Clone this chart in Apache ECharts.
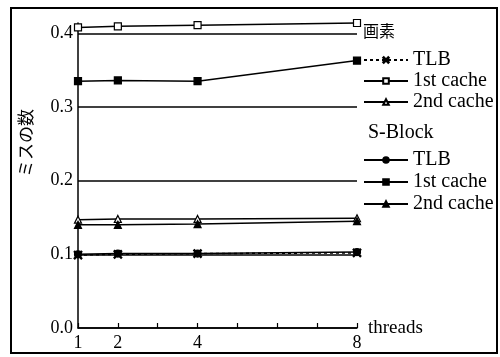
<!DOCTYPE html>
<html>
<head>
<meta charset="utf-8">
<script src="https://cdn.jsdelivr.net/npm/echarts@6/dist/echarts.min.js"></script>
<style>html,body{margin:0;padding:0;background:#fff}#c{width:500px;height:357px}</style>
</head>
<body>
<div id="c"></div>
<script>
var threads = [1, 2, 4, 8];
var xTickLabels = ['1', '2', '4', '8'];
var gasoTLB = [0.099, 0.100, 0.101, 0.102];
var gaso1st = [0.408, 0.4095, 0.411, 0.414];
var gaso2nd = [0.147, 0.148, 0.148, 0.149];
var sbTLB = [0.100, 0.101, 0.101, 0.103];
var sb1st = [0.335, 0.336, 0.335, 0.363];
var sb2nd = [0.140, 0.140, 0.141, 0.145];

var serif = '"Liberation Serif", "Noto Sans CJK JP", serif';
var xPath = 'path://M0,1L1,0L5,4L9,0L10,1L6,5L10,9L9,10L5,6L1,10L0,9L4,5Z';

function pts(vals) { return threads.map(function (t, i) { return [t, vals[i]]; }); }
function mk(name, vals, symbol, fill, dashed) {
  return {
    name: name, type: 'line', data: pts(vals), clip: false,
    symbol: symbol, symbolSize: symbol === xPath ? 8 : 7,
    lineStyle: { color: '#000', width: 1.5, type: dashed ? [3, 3] : 'solid' },
    itemStyle: { color: fill, borderColor: '#000', borderWidth: 1.2 },
    emphasis: { disabled: true }, animation: false
  };
}
var series = [
  mk('画素 TLB', gasoTLB, xPath, '#000', true),
  mk('画素 1st cache', gaso1st, 'rect', '#fff', false),
  mk('画素 2nd cache', gaso2nd, 'triangle', '#fff', false),
  mk('S-Block TLB', sbTLB, 'circle', '#000', false),
  mk('S-Block 1st cache', sb1st, 'rect', '#000', false),
  mk('S-Block 2nd cache', sb2nd, 'triangle', '#000', false)
];
function legendFmt(n) { return n.split(' ').slice(1).join(' '); }
var legendBase = {
  orient: 'vertical', left: 358, itemWidth: 44, itemHeight: 7, itemGap: 0,
  formatter: legendFmt, selectedMode: false,
  textStyle: { fontFamily: serif, fontSize: 20, color: '#000', lineHeight: 21 }
};
var chart = echarts.init(document.getElementById('c'), null, { renderer: 'canvas' });
chart.setOption({
  backgroundColor: '#fff',
  animation: false,
  grid: { left: 78, right: 143, top: 23, bottom: 29 },
  xAxis: {
    type: 'value', min: 1, max: 8, interval: 1,
    name: 'threads', nameLocation: 'end', nameGap: 11,
    nameTextStyle: { fontFamily: serif, fontSize: 19, color: '#000' },
    axisLine: { show: true, lineStyle: { color: '#000', width: 1.5 } },
    axisTick: { show: true, inside: true, length: 5, lineStyle: { color: '#000', width: 1.2 } },
    axisLabel: {
      margin: 6, fontFamily: serif, fontSize: 18, color: '#000',
      formatter: function (v) { var s = String(v); return xTickLabels.indexOf(s) >= 0 ? s : ''; }
    },
    splitLine: { show: false }
  },
  yAxis: {
    type: 'value', min: 0, max: 0.414, interval: 0.1,
    axisLine: { show: true, lineStyle: { color: '#000', width: 1.5 } },
    axisTick: { show: false },
    axisLabel: {
      margin: 5, fontFamily: serif, fontSize: 18, color: '#000', showMaxLabel: false,
      formatter: function (v) { return Math.abs(v * 10 - Math.round(v * 10)) < 1e-6 ? v.toFixed(1) : ''; }
    },
    splitLine: { show: true, showMaxLine: false, lineStyle: { color: '#000', width: 1.5 } }
  },
  legend: [
    Object.assign({}, legendBase, { top: 44.5, data: ['画素 TLB', '画素 1st cache', '画素 2nd cache'] }),
    Object.assign({}, legendBase, { top: 144, textStyle: Object.assign({}, legendBase.textStyle, { lineHeight: 22 }), data: ['S-Block TLB', 'S-Block 1st cache', 'S-Block 2nd cache'] })
  ],
  graphic: [
    { type: 'rect', shape: { x: 11, y: 8, width: 486, height: 345 }, style: { fill: null, stroke: '#000', lineWidth: 2 }, silent: true, z: 100 },
    { type: 'text', x: 363, y: 33, style: { text: '画素', font: '16px ' + serif, fill: '#000', verticalAlign: 'middle' } },
    { type: 'text', x: 368, y: 133, style: { text: 'S-Block', font: '20px ' + serif, fill: '#000', verticalAlign: 'middle' } },
    { type: 'text', x: 28, y: 143, rotation: Math.PI / 2, style: { text: 'ミスの数', font: '17px ' + serif, fill: '#000', align: 'center', verticalAlign: 'middle' } }
  ],
  series: series
});
</script>
</body>
</html>
